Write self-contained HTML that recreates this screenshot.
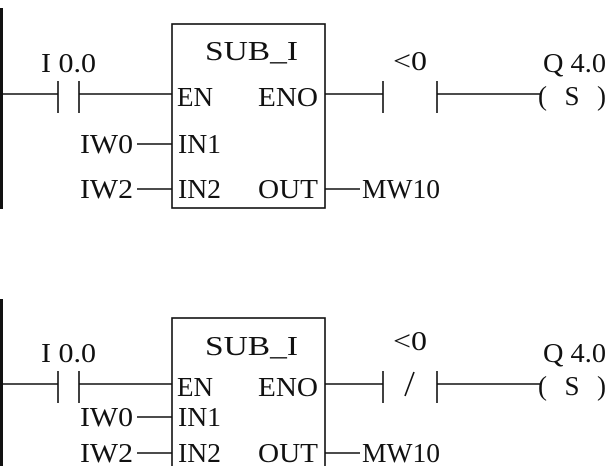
<!DOCTYPE html>
<html><head><style>
html,body{margin:0;padding:0;background:#fff;}
svg{display:block;}
text{font-family:"Liberation Serif",serif;font-size:27px;fill:#111;}
</style></head><body>
<svg width="608" height="466" viewBox="0 0 608 466" xmlns="http://www.w3.org/2000/svg">
<g stroke="#111" stroke-width="1.6" fill="none">
<line x1="1.5" y1="8" x2="1.5" y2="209" stroke-width="3"/>
<line x1="0" y1="94" x2="58" y2="94"/>
<line x1="58" y1="81" x2="58" y2="113"/>
<line x1="79" y1="81" x2="79" y2="113"/>
<line x1="79" y1="94" x2="172" y2="94"/>
<rect x="172" y="24" width="153" height="184"/>
<line x1="137" y1="144" x2="172" y2="144"/>
<line x1="137" y1="189" x2="172" y2="189"/>
<line x1="325" y1="189" x2="360" y2="189"/>
<line x1="325" y1="94" x2="383" y2="94"/>
<line x1="383" y1="81" x2="383" y2="113"/>
<line x1="437" y1="81" x2="437" y2="113"/>
<line x1="437" y1="94" x2="540" y2="94"/>
<line x1="1.5" y1="299" x2="1.5" y2="466" stroke-width="3"/>
<line x1="0" y1="384" x2="58" y2="384"/>
<line x1="58" y1="371" x2="58" y2="403"/>
<line x1="79" y1="371" x2="79" y2="403"/>
<line x1="79" y1="384" x2="172" y2="384"/>
<rect x="172" y="318" width="153" height="160"/>
<line x1="137" y1="417" x2="172" y2="417"/>
<line x1="137" y1="453" x2="172" y2="453"/>
<line x1="325" y1="453" x2="360" y2="453"/>
<line x1="325" y1="384" x2="383" y2="384"/>
<line x1="383" y1="371" x2="383" y2="403"/>
<line x1="437" y1="371" x2="437" y2="403"/>
<line x1="437" y1="384" x2="540" y2="384"/>
<line x1="405" y1="396" x2="414" y2="372"/>
</g>
<text x="41" y="72" textLength="55" lengthAdjust="spacingAndGlyphs">I 0.0</text>
<text x="205" y="60" textLength="93" lengthAdjust="spacingAndGlyphs">SUB_I</text>
<text x="177" y="106" textLength="36" lengthAdjust="spacingAndGlyphs">EN</text>
<text x="258" y="106" textLength="60" lengthAdjust="spacingAndGlyphs">ENO</text>
<text x="80" y="153" textLength="53" lengthAdjust="spacingAndGlyphs">IW0</text>
<text x="178" y="153" textLength="43" lengthAdjust="spacingAndGlyphs">IN1</text>
<text x="80" y="198" textLength="53" lengthAdjust="spacingAndGlyphs">IW2</text>
<text x="178" y="198" textLength="43" lengthAdjust="spacingAndGlyphs">IN2</text>
<text x="258" y="198" textLength="60" lengthAdjust="spacingAndGlyphs">OUT</text>
<text x="362" y="198" textLength="78" lengthAdjust="spacingAndGlyphs">MW10</text>
<text x="393" y="70" textLength="34" lengthAdjust="spacingAndGlyphs">&lt;0</text>
<text x="543" y="72" textLength="63" lengthAdjust="spacingAndGlyphs">Q 4.0</text>
<text x="538" y="105" textLength="68" lengthAdjust="spacing">( S )</text>
<text x="41" y="362" textLength="55" lengthAdjust="spacingAndGlyphs">I 0.0</text>
<text x="205" y="355" textLength="93" lengthAdjust="spacingAndGlyphs">SUB_I</text>
<text x="177" y="396" textLength="36" lengthAdjust="spacingAndGlyphs">EN</text>
<text x="258" y="396" textLength="60" lengthAdjust="spacingAndGlyphs">ENO</text>
<text x="80" y="426" textLength="53" lengthAdjust="spacingAndGlyphs">IW0</text>
<text x="178" y="426" textLength="43" lengthAdjust="spacingAndGlyphs">IN1</text>
<text x="80" y="462" textLength="53" lengthAdjust="spacingAndGlyphs">IW2</text>
<text x="178" y="462" textLength="43" lengthAdjust="spacingAndGlyphs">IN2</text>
<text x="258" y="462" textLength="60" lengthAdjust="spacingAndGlyphs">OUT</text>
<text x="362" y="462" textLength="78" lengthAdjust="spacingAndGlyphs">MW10</text>
<text x="393" y="350" textLength="34" lengthAdjust="spacingAndGlyphs">&lt;0</text>
<text x="543" y="362" textLength="63" lengthAdjust="spacingAndGlyphs">Q 4.0</text>
<text x="538" y="395" textLength="68" lengthAdjust="spacing">( S )</text>
</svg>
</body></html>
